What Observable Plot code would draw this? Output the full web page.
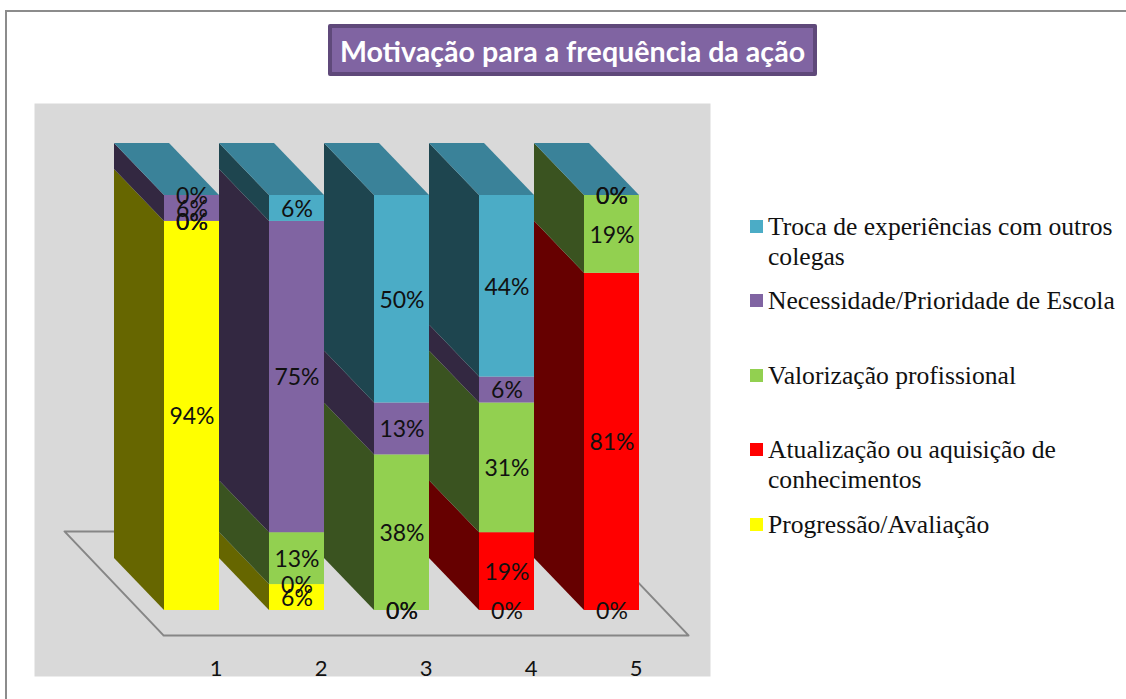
<!DOCTYPE html>
<html lang="pt">
<head>
<meta charset="utf-8">
<script src="https://cdn.jsdelivr.net/npm/d3@7"></script>
<script src="https://cdn.jsdelivr.net/npm/@observablehq/plot@0.6"></script>
<style>
  html, body { margin: 0; background: #fff; }
  #page { position: relative; width: 1126px; height: 699px; overflow: hidden; }
  #border { position: absolute; left: 5px; top: 10px; right: -10px; bottom: -10px; border: 2.5px solid #8c8c8c; }
  #chart { position: absolute; left: 0; top: 0; }
  #title { position: absolute; left: 328px; top: 24px; width: 489px; height: 52px; box-sizing: border-box;
    background: #8064A2; border: 4px solid #5F497A; border-radius: 2px; color: #fff;
    font: bold 28.6px/47px Lato, sans-serif; text-align: center; white-space: nowrap; }
  .swatch { position: absolute; left: 750px; width: 13px; height: 13px; }
  .entry { position: absolute; left: 768px; width: 358px; font: 25.6px/30px "Liberation Serif", serif; color: #111; white-space: nowrap; }
</style>
</head>
<body>
<div id="page">
  <div id="border"></div>
  <div id="chart"></div>
  <div id="title"></div>
</div>
<script>
const chartTitle = "Motivação para a frequência da ação";
const categories = [1, 2, 3, 4, 5];
const progressao  = [93.75, 6.25, 0, 0, 0];
const atualizacao = [0, 0, 0, 18.75, 81.25];
const valorizacao = [0, 12.5, 37.5, 31.25, 18.75];
const necessidade = [6.25, 75, 12.5, 6.25, 0];
const troca       = [0, 6.25, 50, 43.75, 0];
const seriesNames = ["Progressão/Avaliação", "Atualização ou aquisição de\nconhecimentos", "Valorização profissional", "Necessidade/Prioridade de Escola", "Troca de experiências com outros\ncolegas"];
const seriesValues = [progressao, atualizacao, valorizacao, necessidade, troca];
const frontColors = ["#FFFF00", "#FF0000", "#92D050", "#8064A2", "#4BACC6"];
const sideColors  = ["#666600", "#660000", "#3A5320", "#332841", "#1E454F"];
const topColor = "#3A8299";

// 3-D projection expressed in data units
const halfBar = 27.5 / 105, depthX = -50 / 105, depthY = 52 / 4.15;

const fronts = [], sides = [], labels = [], tops = [];
categories.forEach((c, i) => {
  let base = 0;
  seriesValues.forEach((vals, s) => {
    const v = vals[i], mid = base + v / 2, y1 = base, y2 = base + v;
    base = y2;
    if (v > 0) {
      fronts.push({x1: c - halfBar, x2: c + halfBar, y1, y2, fill: frontColors[s]});
      const z = `${c}-${s}`, xl = c - halfBar;
      sides.push({z, x: xl, y1, y2, fill: sideColors[s]});
      sides.push({z, x: xl + depthX, y1: y1 + depthY, y2: y2 + depthY, fill: sideColors[s]});
    }
    labels.push({x: c, y: mid, text: `${Math.round(v)}%`});
  });
  tops.push({z: c, x1: c - halfBar, x2: c + halfBar, y: base, fill: topColor});
  tops.push({z: c, x1: c - halfBar + depthX, x2: c + halfBar + depthX, y: base + depthY, fill: topColor});
});

// Floor of the 3-D box, in the same data units
const fx0 = categories[0] - 0.2714, fx1 = categories[4] + 0.7286, fy = -6;
const floor = [
  {x: fx0, y: fy}, {x: fx1, y: fy},
  {x: fx1 + 1.98 * depthX, y: fy + 2 * depthY}, {x: fx0 + 1.98 * depthX, y: fy + 2 * depthY},
  {x: fx0, y: fy}
];

const plot = Plot.plot({
  width: 1126, height: 699,
  marginLeft: 34, marginTop: 103, marginRight: 416, marginBottom: 23,
  style: {background: "transparent", overflow: "visible"},
  x: {domain: [1, 5], range: [191.5, 611.5]},
  y: {domain: [0, 100], range: [610, 195], axis: null},
  color: {type: "identity"},
  marks: [
    Plot.frame({fill: "#D9D9D9"}),
    Plot.line(floor, {x: "x", y: "y", stroke: "#868686", strokeWidth: 2}),
    Plot.areaY(sides, {x: "x", y1: "y1", y2: "y2", z: "z", fill: "fill"}),
    Plot.areaX(tops, {x1: "x1", x2: "x2", y: "y", z: "z", fill: "fill"}),
    Plot.rect(fronts, {x1: "x1", x2: "x2", y1: "y1", y2: "y2", fill: "fill"}),
    Plot.text(labels, {x: "x", y: "y", dy: 1, text: "text", fontSize: 23, fontFamily: "Lato, sans-serif", fill: "#111"}),
    Plot.axisX({ticks: categories, tickFormat: d => String(d), tickSize: 0, tickPadding: 0, label: null, dx: 24, dy: -16, fontSize: 22, fontFamily: "Lato, sans-serif", fill: "#111"})
  ]
});
document.getElementById("chart").append(plot);
document.getElementById("title").textContent = chartTitle;

// Legend, top entry first
const page = document.getElementById("page");
const swatchTops = [518, 443, 369, 294, 220];
seriesNames.forEach((name, s) => {
  const sw = document.createElement("div");
  sw.className = "swatch";
  sw.style.top = swatchTops[s] + "px";
  sw.style.background = frontColors[s];
  page.append(sw);
  const e = document.createElement("div");
  e.className = "entry";
  e.style.top = (swatchTops[s] - 8) + "px";
  e.innerHTML = name.split("\n").join("<br>");
  page.append(e);
});
</script>
</body>
</html>
